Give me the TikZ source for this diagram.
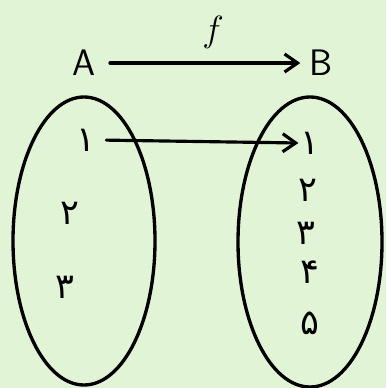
\documentclass[tikz,border=0pt]{standalone}
\usepackage{fontspec}
\newfontfamily\arabicfont[Script=Arabic]{DejaVu Sans}
\TeXXeTstate=1
\usetikzlibrary{arrows.meta,shapes.geometric}
\definecolor{bgpaper}{RGB}{226,244,214}

\begin{document}
\begin{tikzpicture}[x=0.02cm,y=-0.02cm]
\tikzset{
  setnode/.style={ellipse,draw=black,line width=1.9pt,inner sep=0pt},
  elemnode/.style={inner sep=1pt,font=\arabicfont\fontsize{20}{24}\selectfont},
  namenode/.style={inner sep=1pt,font=\sffamily\fontsize{21}{25}\selectfont},
  mapedge/.style={draw=black,line width=1.8pt,line cap=round,-{Straight Barb[length=2.6mm,width=3.6mm,line width=1.8pt]}}
}
\fill[bgpaper] (0,0) rectangle (386,388);
\useasboundingbox (0,0) rectangle (386,388);
\node[namenode] (n_A) at (84,63) {A};
\node[namenode] (n_B) at (321,63) {B};
\node[inner sep=1pt,font=\fontsize{22}{26}\selectfont] (n_f) at (213,32) {$f$};
\node[setnode,minimum width=142*0.02cm,minimum height=288*0.02cm] (n_setA) at (84,241) {};
\node[setnode,minimum width=144*0.02cm,minimum height=290*0.02cm] (n_setB) at (310,242) {};
\node[elemnode] (n_a1) at (86,140) {\beginR ۱\endR};
\node[elemnode] (n_a2) at (70,213) {\beginR ۲\endR};
\node[elemnode] (n_a3) at (65,287) {\beginR ۳\endR};
\node[elemnode] (n_b1) at (310,143) {\beginR ۱\endR};
\node[elemnode] (n_b2) at (308,190) {\beginR ۲\endR};
\node[elemnode] (n_b3) at (306,233) {\beginR ۳\endR};
\node[elemnode] (n_b4) at (310,272) {\beginR ۴\endR};
\node[elemnode] (n_b5) at (310,323) {\beginR ۵\endR};
\draw[mapedge,shorten <=7pt,shorten >=4pt] (n_A) -- (n_B);
\draw[mapedge,shorten <=5pt] (n_a1.east) -- (n_b1.west);
\end{tikzpicture}
\end{document}
